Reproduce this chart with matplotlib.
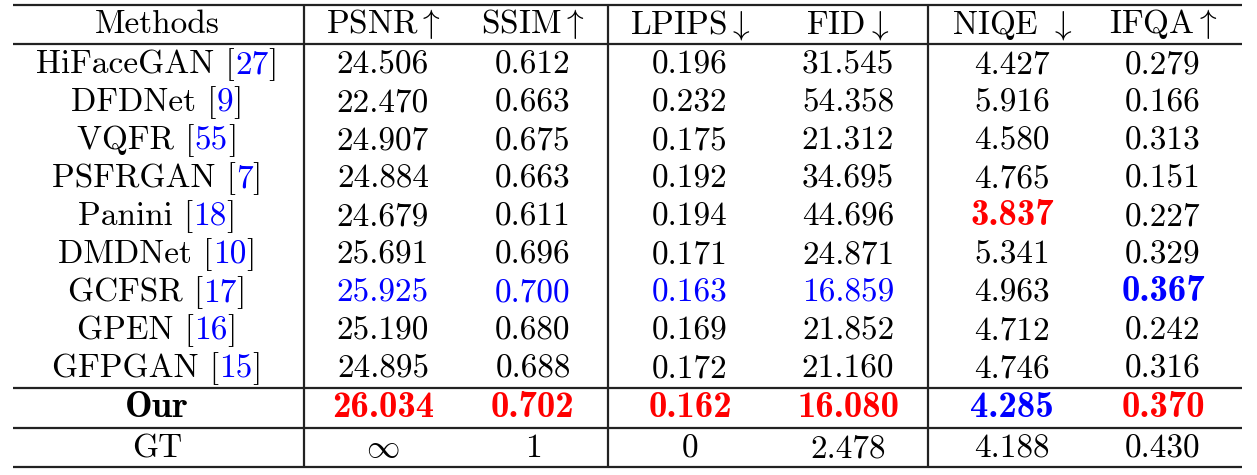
import matplotlib
matplotlib.use('Agg')
import matplotlib.pyplot as plt

plt.rcParams['font.family'] = 'serif'
plt.rcParams['font.serif'] = ['cmr10']
plt.rcParams['mathtext.fontset'] = 'cm'

headers = ['Methods', r'PSNR$\uparrow$', r'SSIM$\uparrow$', r'LPIPS$\downarrow$',
           r'FID$\downarrow$', r'NIQE $\downarrow$', r'IFQA$\uparrow$']
methods = ['HiFaceGAN', 'DFDNet', 'VQFR', 'PSFRGAN', 'Panini', 'DMDNet', 'GCFSR', 'GPEN', 'GFPGAN', 'Our', 'GT']
refs = ['27', '9', '55', '7', '18', '10', '17', '16', '15', '', '']
psnr = ['24.506', '22.470', '24.907', '24.884', '24.679', '25.691', '25.925', '25.190', '24.895', '26.034', r'$\infty$']
ssim = ['0.612', '0.663', '0.675', '0.663', '0.611', '0.696', '0.700', '0.680', '0.688', '0.702', '1']
lpips = ['0.196', '0.232', '0.175', '0.192', '0.194', '0.171', '0.163', '0.169', '0.172', '0.162', '0']
fid = ['31.545', '54.358', '21.312', '34.695', '44.696', '24.871', '16.859', '21.852', '21.160', '16.080', '2.478']
niqe = ['4.427', '5.916', '4.580', '4.765', '3.837', '5.341', '4.963', '4.712', '4.746', '4.285', '4.188']
ifqa = ['0.279', '0.166', '0.313', '0.151', '0.227', '0.329', '0.367', '0.242', '0.316', '0.370', '0.430']
columns = [psnr, ssim, lpips, fid, niqe, ifqa]

# (row, col) -> (colour, bold); col 1.. = metric columns
RED, BLUE = '#ff0000', '#0000ff'
highlight = {(6, 1): (BLUE, False), (6, 2): (BLUE, False), (6, 3): (BLUE, False), (6, 4): (BLUE, False),
             (6, 6): (BLUE, True), (4, 5): (RED, True), (9, 5): (BLUE, True),
             (9, 1): (RED, True), (9, 2): (RED, True), (9, 3): (RED, True), (9, 4): (RED, True),
             (9, 6): (RED, True)}

col_x = [157, 383, 533, 690, 848, 1012, 1163]
row_y0, row_h = 62, 38
fs = 24
fs_bold = 26.5
base = 11  # baseline offset below row centre

fig = plt.figure(figsize=(12.57, 4.75), dpi=100)
ax = fig.add_axes([0, 0, 1, 1])
ax.set_xlim(0, 1257)
ax.set_ylim(475, 0)
ax.axis('off')

# rules
lw = 1.6
for y in [5, 44, 388, 428, 467]:
    ax.plot([13, 1242], [y, y], color='#222222', lw=lw, solid_capstyle='butt')
for x in [304, 608, 928]:
    ax.plot([x, x], [5, 467], color='#222222', lw=lw, solid_capstyle='butt')

for j, h in enumerate(headers):
    ax.text(col_x[j], 22 + base, h, fontsize=fs, ha='center', va='baseline')

fig.canvas.draw()
renderer = fig.canvas.get_renderer()


def width_of(s, **kw):
    t = ax.text(0, 0, s, fontsize=fs, **kw)
    w = t.get_window_extent(renderer).width
    t.remove()
    return w


for i, m in enumerate(methods):
    y = row_y0 + i * row_h + (2 if i >= 9 else 0) + (2 if i >= 10 else 0) + base
    if refs[i]:
        parts = [(m + ' [', 'black'), (refs[i], BLUE), (']', 'black')]
        widths = [width_of(p) for p, _ in parts]
        x = col_x[0] - sum(widths) / 2
        for (p, c), w in zip(parts, widths):
            ax.text(x, y, p, fontsize=fs, ha='left', va='baseline', color=c)
            x += w
    else:
        bold = m == 'Our'
        ax.text(col_x[0], y, m, fontsize=fs_bold if bold else fs, ha='center', va='baseline',
                family='cmb10' if bold else 'cmr10')
    for j, col in enumerate(columns, start=1):
        colour, bold = highlight.get((i, j), ('black', False))
        ax.text(col_x[j], y, col[i], fontsize=fs_bold if bold else fs, ha='center', va='baseline',
                color=colour, family='cmb10' if bold else 'cmr10')

fig.savefig('out.png', dpi=100)
